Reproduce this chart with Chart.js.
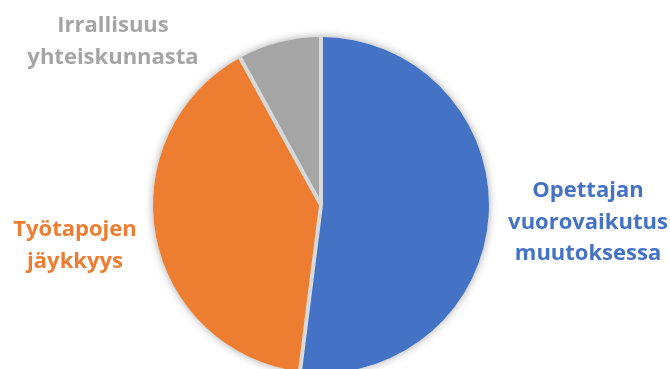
<!DOCTYPE html>
<html>
<head>
<meta charset="utf-8">
<script src="https://cdn.jsdelivr.net/npm/chart.js@4/dist/chart.umd.min.js"></script>
<style>
  html, body { margin: 0; padding: 0; background: #ffffff; overflow: hidden; width: 670px; height: 369px; }
  #wrap { position: absolute; left: 0; top: 0; width: 670px; height: 410px; }
</style>
</head>
<body>
<div id="wrap"><canvas id="c" width="670" height="410"></canvas></div>
<script>
const categories = ['Opettajan vuorovaikutus muutoksessa', 'Työtapojen jäykkyys', 'Irrallisuus yhteiskunnasta'];
const labelLines = [['Opettajan', 'vuorovaikutus', 'muutoksessa'], ['Työtapojen', 'jäykkyys'], ['Irrallisuus', 'yhteiskunnasta']];
const values = [52, 40, 8];
const colors = ['#4472c4', '#ed7d31', '#a5a5a5'];

const pieDecor = {
  id: 'pieDecor',
  beforeDatasetsDraw(chart) {
    const arc = chart.getDatasetMeta(0).data[0];
    if (!arc) return;
    const ctx = chart.ctx;
    ctx.save();
    ctx.shadowColor = 'rgba(0,0,0,0.35)';
    ctx.shadowBlur = 9;
    ctx.fillStyle = '#ffffff';
    ctx.beginPath();
    ctx.arc(arc.x, arc.y, arc.outerRadius, 0, Math.PI * 2);
    ctx.fill();
    ctx.restore();
  },
  afterDatasetsDraw(chart) {
    const ctx = chart.ctx;
    const arcs = chart.getDatasetMeta(0).data;
    ctx.save();
    ctx.strokeStyle = '#d9d9d9';
    ctx.lineWidth = 4;
    ctx.lineCap = 'butt';
    arcs.forEach(a => {
      ctx.beginPath();
      ctx.moveTo(a.x, a.y);
      ctx.lineTo(a.x + Math.cos(a.startAngle) * a.outerRadius, a.y + Math.sin(a.startAngle) * a.outerRadius);
      ctx.stroke();
    });
    ctx.restore();
  },
  afterDraw(chart, args, opts) {
    const ctx = chart.ctx;
    const arcs = chart.getDatasetMeta(0).data;
    ctx.save();
    ctx.font = 'bold 22px "Open Sans"';
    ctx.textAlign = 'center';
    ctx.textBaseline = 'alphabetic';
    arcs.forEach((a, i) => {
      const off = opts.offsets[i];
      ctx.fillStyle = colors[i];
      labelLines[i].forEach((line, j) => {
        ctx.fillText(line, a.x + off[0], a.y + off[1] + j * opts.lineHeight);
      });
    });
    ctx.restore();
  }
};

new Chart(document.getElementById('c'), {
  type: 'pie',
  data: {
    labels: categories,
    datasets: [{
      data: values,
      backgroundColor: colors,
      borderWidth: 0
    }]
  },
  options: {
    responsive: false,
    animation: false,
    devicePixelRatio: 1,
    layout: { padding: { left: 37, right: 65, top: 37, bottom: 37 } },
    plugins: {
      legend: { display: false },
      tooltip: { enabled: false },
      pieDecor: {
        lineHeight: 31.5,
        offsets: [[267, -8], [-246, 31], [-208, -173]]
      }
    }
  },
  plugins: [pieDecor]
});
</script>
</body>
</html>
